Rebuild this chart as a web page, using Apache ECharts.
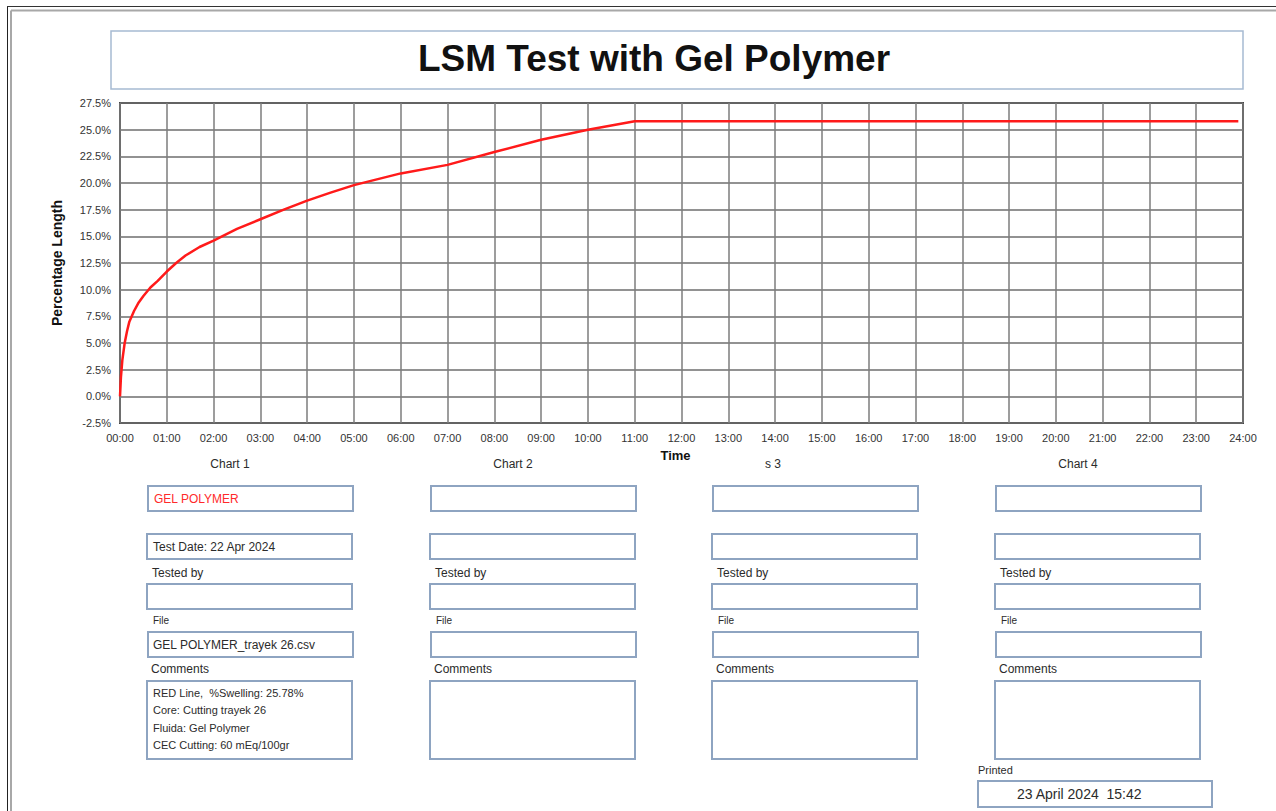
<!DOCTYPE html>
<html>
<head>
<meta charset="utf-8">
<title>LSM Test with Gel Polymer</title>
<script src="https://cdn.jsdelivr.net/npm/echarts@6/dist/echarts.min.js"></script>
<style>
  html, body { margin: 0; padding: 0; background: #fff; }
  #main { width: 1276px; height: 811px; }
</style>
</head>
<body>
<div id="main"></div>
<script>
// curve: elapsed hours -> % length
const hours = [0, 0.02, 0.05, 0.1, 0.15, 0.2, 0.3, 0.4, 0.5, 0.65, 0.8, 1.0, 1.2, 1.4, 1.7, 2.0, 2.5, 3.0, 3.5, 4.0, 4.5, 5.0, 6.0, 7.0, 8.0, 9.0, 10.0, 11.0, 23.9]
const swelling = [0, 1.8, 3.4, 5.0, 6.1, 7.0, 8.0, 8.8, 9.4, 10.2, 10.8, 11.7, 12.5, 13.2, 14.0, 14.6, 15.7, 16.6, 17.5, 18.35, 19.1, 19.8, 20.9, 21.7, 22.9, 24.05, 25.0, 25.78, 25.78]

const yTicks = { min: -2.5, max: 27.5, step: 2.5 }
const xTicks = { min: 0, max: 24, step: 1 }

// report form under the chart
const columnTitles = ['Chart 1', 'Chart 2', 's 3', 'Chart 4']
const chartNames = ['GEL POLYMER', '', '', '']
const testDates = ['Test Date: 22 Apr 2024', '', '', '']
const fileNames = ['GEL POLYMER_trayek 26.csv', '', '', '']
const comments = [
  ['RED Line,  %Swelling: 25.78%', 'Core: Cutting trayek 26', 'Fluida: Gel Polymer', 'CEC Cutting: 60 mEq/100gr'],
  [], [], []
]
const printedAt = '23 April 2024  15:42'

const FONT = 'Arial, "Liberation Sans", sans-serif'
const BOX = '#8ea4c1'
const TXT = '#2b2b2b'

function text(x, y, str, opt = {}) {
  return {
    type: 'text',
    x, y,
    silent: true,
    style: {
      text: str,
      fontSize: opt.size || 12,
      fontWeight: opt.weight || 'normal',
      fontFamily: FONT,
      fill: opt.color || TXT,
      align: opt.align || 'left',
      verticalAlign: 'middle'
    }
  }
}
function box(x, y, w, h, color = BOX, lw = 2) {
  return {
    type: 'rect',
    silent: true,
    shape: { x, y, width: w, height: h },
    style: { fill: 'none', stroke: color, lineWidth: lw }
  }
}
function line(x1, y1, x2, y2, color, lw) {
  return {
    type: 'line',
    silent: true,
    shape: { x1, y1, x2, y2 },
    style: { stroke: color, lineWidth: lw }
  }
}

function buildGraphic() {
  const g = []
  // page frame (top + left only)
  g.push(line(7.5, 6.5, 7.5, 811, '#222', 1))
  g.push(line(7, 6.5, 1276, 6.5, '#333', 1))
  g.push(line(11, 10.5, 11, 811, '#a8a8a8', 2))
  g.push(line(11, 10.5, 1276, 10.5, '#a8a8a8', 2))

  // title box
  g.push(box(111, 31, 1132, 58, '#a7bad2', 1.5))
  g.push(text(654, 58, 'LSM Test with Gel Polymer', { size: 37, weight: 'bold', color: '#111', align: 'center' }))

  const colX = [148, 431, 713, 996]
  const headX = [230, 513, 773, 1078]
  const W = 205
  colX.forEach((x, i) => {
    g.push(text(headX[i], 464, columnTitles[i], { size: 12, align: 'center' }))
    g.push(box(x, 486, W, 25))
    g.push(text(x + 6, 498.5, chartNames[i], { size: 12, color: '#ff2a2a' }))
    g.push(box(x - 1, 534, W, 25))
    g.push(text(x + 5, 546.5, testDates[i], { size: 12 }))
    g.push(text(x + 4, 573, 'Tested by', { size: 12 }))
    g.push(box(x - 1, 584, W, 25))
    g.push(text(x + 5, 620, 'File', { size: 10 }))
    g.push(box(x, 632, W, 25))
    g.push(text(x + 5, 644.5, fileNames[i], { size: 12 }))
    g.push(text(x + 3, 669, 'Comments', { size: 12 }))
    g.push(box(x - 1, 681, W, 78))
    comments[i].forEach((c, k) => {
      g.push(text(x + 5, 693 + k * 17.3, c, { size: 11 }))
    })
  })
  g.push(text(978, 770, 'Printed', { size: 11 }))
  g.push(box(978, 781, 234, 26))
  g.push(text(1017, 794, printedAt, { size: 14 }))
  return g
}

const chart = echarts.init(document.getElementById('main'), null, { renderer: 'svg' })
chart.setOption({
  animation: false,
  backgroundColor: '#fff',
  grid: {
    left: 120, right: 33, top: 103, bottom: 388,
    show: true, borderColor: '#444', borderWidth: 2, backgroundColor: 'transparent'
  },
  xAxis: {
    type: 'value',
    min: xTicks.min, max: xTicks.max, interval: xTicks.step,
    name: 'Time',
    nameLocation: 'middle',
    nameGap: 26,
    nameTextStyle: { fontFamily: FONT, fontWeight: 'bold', fontSize: 13, color: '#111', padding: [0, 12, 0, 0] },
    axisLine: { show: false },
    axisTick: { show: false },
    axisLabel: {
      margin: 9,
      fontFamily: FONT, fontSize: 11, color: '#333',
      formatter: v => String(v).padStart(2, '0') + ':00'
    },
    splitLine: { show: true, lineStyle: { color: '#7d7d7d', width: 1.5 } }
  },
  yAxis: {
    type: 'value',
    min: yTicks.min, max: yTicks.max, interval: yTicks.step,
    name: 'Percentage Length',
    nameLocation: 'middle',
    nameGap: 56,
    nameTextStyle: { fontFamily: FONT, fontWeight: 'bold', fontSize: 14, color: '#111' },
    axisLine: { show: false },
    axisTick: { show: false },
    axisLabel: {
      margin: 9,
      fontFamily: FONT, fontSize: 11, color: '#333',
      formatter: v => v.toFixed(1) + '%'
    },
    splitLine: { show: true, lineStyle: { color: '#6e6e6e', width: 1.5 } }
  },
  series: [{
    type: 'line',
    data: hours.map((h, i) => [h, swelling[i]]),
    showSymbol: false,
    smooth: false,
    lineStyle: { color: '#ff1a1a', width: 2.5, join: 'round' }
  }],
  graphic: buildGraphic()
})
</script>
</body>
</html>
